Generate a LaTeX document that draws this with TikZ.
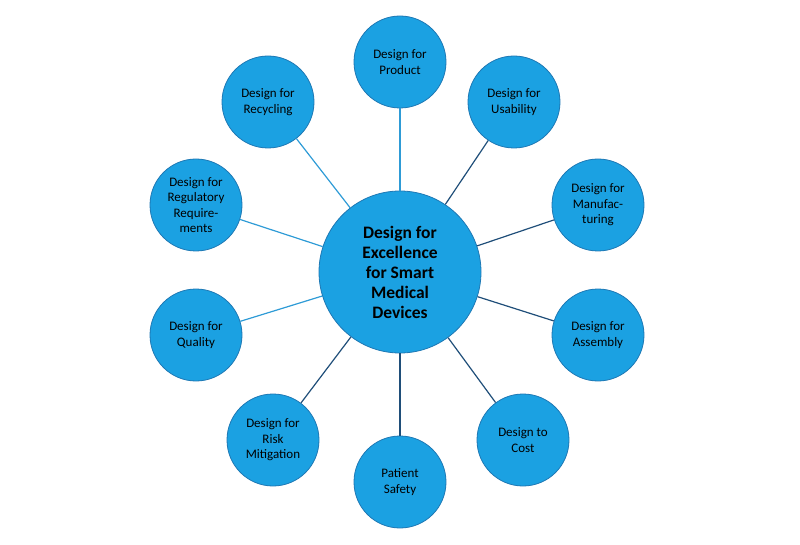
\documentclass[tikz,border=0pt]{standalone}
\usepackage{fontspec}
\setmainfont{Carlito}
\begin{document}
\begin{tikzpicture}[x=1pt,y=-1pt,
  bub/.style={circle,fill={rgb,255:red,27;green,161;blue,226},draw={rgb,255:red,30;green,120;blue,180},line width=0.8pt,minimum size=92pt,inner sep=0pt,align=center,font=\fontsize{13}{15.5}\selectfont},
  hub/.style={bub,minimum size=162pt,font=\bfseries\fontsize{17.5}{20}\selectfont},
  dk/.style={draw={rgb,255:red,31;green,78;blue,121},line width=1.2pt},
  lt/.style={draw={rgb,255:red,46;green,155;blue,214},line width=1.2pt}]
\useasboundingbox (0,0) rectangle (800,545);
\node[hub] (c) at (400,272) {Design for\\Excellence\\for Smart\\Medical\\Devices};
\node[bub] (p) at (400,62) {Design for\\Product};
\node[bub] (u) at (514,102) {Design for\\Usability};
\node[bub] (m) at (598,205) {Design for\\Manufac-\\turing};
\node[bub] (a) at (598,335) {Design for\\Assembly};
\node[bub] (co) at (523,440) {Design to\\Cost};
\node[bub] (ps) at (400,482) {Patient\\Safety};
\node[bub] (r) at (273,440) {Design for\\Risk\\Mitigation};
\node[bub] (q) at (196,335) {Design for\\Quality};
\node[bub] (rg) at (196,205) {Design for\\Regulatory\\Require-\\ments};
\node[bub] (rc) at (268,102) {Design for\\Recycling};
\foreach \n/\s in {p/lt,u/dk,m/dk,a/dk,co/dk,ps/dk,r/dk,q/lt,rg/lt,rc/lt}
  \path[\s] (c) -- (\n);
\end{tikzpicture}
\end{document}
